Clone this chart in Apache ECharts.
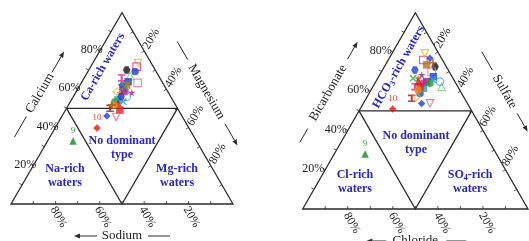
<!DOCTYPE html>
<html>
<head>
<meta charset="utf-8">
<style>
  html, body { margin: 0; padding: 0; background: #fff; }
  #chart { width: 529px; height: 241px; }
</style>
</head>
<body>
<div id="chart"></div>
<script src="https://cdn.jsdelivr.net/npm/echarts@6.0.0/dist/echarts.min.js"></script>
<script>
// water samples, % of meq
const sampleIds = [1, 2, 3, 4, 5, 6, 7, 8, 9, 10, 11, 12, 13, 14, 15, 16, 17, 18, 19, 20, 21, 22, 23, 24, 25, 26, 27, 28, 29, 30];
// cations: calcium + magnesium (sodium is the rest)
const caPct = [70.0, 71.8, 69.2, 73.7, 63.3, 66.9, 65.9, 63.9, 32.9, 39.7, 62.2, 62.2, 58.2, 59.6, 58.7, 56.1, 58.0, 53.5, 54.4, 52.8, 50.0, 49.1, 53.5, 58.7, 61.3, 51.8, 56.1, 51.8, 46.0, 45.5];
const mgPct = [17.1, 20.7, 21.3, 20.4, 25.4, 20.2, 16.9, 20.8, 11.5, 18.9, 21.0, 18.8, 25.3, 20.6, 22.0, 24.1, 20.1, 20.1, 21.0, 21.8, 19.6, 24.5, 23.8, 18.3, 20.7, 20.5, 21.5, 19.5, 20.2, 24.6];
// anions: bicarbonate + sulfate (chloride is the rest)
const hco3Pct = [72.5, 75.9, 58.9, 79.3, 69.9, 62.3, 62.3, 67.4, 28.0, 50.9, 73.4, 76.8, 68.3, 64.9, 64.0, 64.9, 66.6, 64.0, 61.5, 64.9, 56.4, 62.3, 65.7, 57.2, 66.6, 60.6, 70.8, 74.4, 53.8, 53.8];
const so4Pct = [22.5, 15.6, 22.6, 14.6, 22.3, 30.5, 18.7, 24.3, 13.7, 14.5, 18.3, 18.1, 18.7, 22.6, 21.5, 28.5, 17.9, 24.5, 22.8, 18.9, 20.2, 20.9, 25.0, 22.0, 15.7, 20.9, 14.4, 20.6, 25.9, 29.6];
const labeledSamples = [9, 10];
const tickLabels = [20, 40, 60, 80];
const tickSteps = [10, 20, 30, 40, 50, 60, 70, 80, 90];

const SERIF = '"Liberation Serif", "Times New Roman", serif';
const INK = '#2a2a2a';
const REGION_BLUE = '#2828c8';

const PATHS = {
  star: 'path://M50,0 L61,35 L98,35 L68,57 L79,91 L50,70 L21,91 L32,57 L2,35 L39,35 Z',
  cross: 'path://M0,15 L15,0 L50,35 L85,0 L100,15 L65,50 L100,85 L85,100 L50,65 L15,100 L0,85 L35,50 Z',
  plus: 'path://M38,0 H62 V38 H100 V62 H62 V100 H38 V62 H0 V38 H38 Z',
  ibeam: 'path://M0,0 H100 V22 H64 V78 H100 V100 H0 V78 H36 V22 H0 Z',
  hex: 'path://M25,0 L75,0 L100,50 L75,100 L25,100 L0,50 Z'
};

// marker per sample: [shape, colour, hollow]
const sampleStyle = [
  ['hex', '#111111', false], ['rect', '#d0209a', true], ['circle', '#2040d0', false],
  ['triDown', '#c8c020', true], ['rect', '#e070b0', true], ['triangle', '#70d070', true],
  ['ibeam', '#d0209a', false], ['rect', '#2040d0', false], ['triangle', '#108a20', false],
  ['diamond', '#ee1010', false], ['rect', '#b87020', false], ['diamond', '#2040d0', false],
  ['star', '#a0207a', false], ['rect', '#7a2a9a', false], ['circle', '#c020a0', false],
  ['circle', '#40a0e0', true], ['star', '#c03a20', false], ['circle', '#20a020', false],
  ['rect', '#20a0a8', false], ['triangle', '#e01818', false], ['ibeam', '#a01818', false],
  ['rect', '#e02020', false], ['cross', '#30a0d0', false], ['diamond', '#d8c030', true],
  ['cross', '#40b040', false], ['circle', '#f08a10', false], ['hex', '#2040d0', false],
  ['plus', '#a06020', false], ['diamond', '#2040d0', false], ['triDown', '#e06080', true]
];

// ternary -> grid: a = apex component, b = bottom-right component
function tern(a, b) {
  return [b + a / 2, a];
}

function sampleData(aPct, bPct) {
  return sampleIds.map(function (id, i) {
    const st = sampleStyle[i];
    const shape = st[0], color = st[1];
    const item = {
      value: tern(aPct[i], bPct[i]),
      symbol: PATHS[shape] || (shape === 'triDown' ? 'triangle' : shape),
      symbolRotate: shape === 'triDown' ? 180 : 0,
      itemStyle: st[2]
        ? { color: 'rgba(255,255,255,0)', borderColor: color, borderWidth: 1.1 }
        : { color: color, borderWidth: 0 }
    };
    if (labeledSamples.indexOf(id) >= 0) {
      item.label = {
        show: true, position: 'top', distance: 2, formatter: String(id),
        color: color, fontSize: 9, fontFamily: SERIF
      };
    }
    return item;
  });
}

function unit(p, q) {
  const dx = q[0] - p[0], dy = q[1] - p[1];
  const l = Math.hypot(dx, dy);
  return [dx / l, dy / l];
}
function move(p, v, k) {
  return [p[0] + v[0] * k, p[1] + v[1] * k];
}
function seg(p, q, w) {
  return { type: 'line', shape: { x1: p[0], y1: p[1], x2: q[0], y2: q[1] }, style: { stroke: INK, lineWidth: w || 1.2 } };
}
function arrow(p, q) {
  const u = unit(p, q), n = [-u[1], u[0]];
  const base = move(q, u, -6);
  return [
    seg(p, base, 1),
    { type: 'polygon', shape: { points: [q, move(base, n, 2.4), move(base, n, -2.4)] }, style: { fill: INK } }
  ];
}
function txt(p, str, rot, extra) {
  return {
    type: 'text', x: p[0], y: p[1], rotation: rot || 0,
    style: Object.assign({
      text: str, fill: '#222', font: '12px ' + SERIF, align: 'center', verticalAlign: 'middle'
    }, extra || {})
  };
}
function regionText(p, str, rot) {
  return txt(p, str, rot, {
    fill: REGION_BLUE, font: 'bold 12px ' + SERIF, lineHeight: 14,
    rich: {
      b: { fill: REGION_BLUE, font: 'bold 12px ' + SERIF, lineHeight: 14 },
      s: { fill: REGION_BLUE, font: 'bold 8px ' + SERIF, verticalAlign: 'bottom', lineHeight: 11 }
    }
  });
}
// axis name with a lead line and an arrow, placed outside an edge
function axisTitle(mid, out, u, dist, name, lineT, arrowT) {
  const c = move(mid, out, dist);
  const rot = -Math.atan2(u[1], u[0]);
  return [
    txt(c, name, rot, { font: '13px ' + SERIF }),
    seg(move(c, u, lineT[0]), move(c, u, lineT[1]), 1)
  ].concat(arrow(move(c, u, arrowT[0]), move(c, u, arrowT[1])));
}

function makeDecor(cfg) {
  return function (params, api) {
    const P = function (a, b) { return api.coord(tern(a, b)); };
    const L = P(0, 0), R = P(0, 100), T = P(100, 0);
    const kids = [];
    kids.push({ type: 'polygon', shape: { points: [L, R, T] }, style: { fill: null, stroke: INK, lineWidth: 1.3 } });
    kids.push(seg(P(50, 0), P(50, 50), 1.3));
    kids.push({ type: 'polyline', shape: { points: [P(50, 0), P(0, 50), P(50, 50)] }, style: { fill: null, stroke: INK, lineWidth: 1.3 } });

    const uLeft = unit(L, T), uRight = unit(T, R), uBase = [1, 0];
    const inLeft = [-uLeft[1], uLeft[0]];
    const inRight = [-uRight[1], uRight[0]];
    // small ticks every 10%, pointing inside
    tickSteps.forEach(function (v) {
      const pl = P(v, 0), pr = P(100 - v, v), pb = P(0, 100 - v);
      kids.push(seg(pl, move(pl, inLeft, -3), 0.8));
      kids.push(seg(pr, move(pr, inRight, 3), 0.8));
      kids.push(seg(pb, [pb[0], pb[1] - 3], 0.8));
    });
    const rotLeft = -Math.atan2(uLeft[1], uLeft[0]);
    const rotRight = -Math.atan2(uRight[1], uRight[0]);
    tickLabels.forEach(function (v) {
      const pl = P(v, 0), pr = P(100 - v, v), pb = P(0, 100 - v);
      kids.push(txt([pl[0] + cfg.leftLab[0], pl[1] + cfg.leftLab[1]], v + '%', 0, { align: 'right' }));
      kids.push(txt([pr[0] + cfg.rightLab[0], pr[1] + cfg.rightLab[1]], v + '%', rotLeft));
      kids.push(txt([pb[0] + cfg.baseLab[0], pb[1] + cfg.baseLab[1]], v + '%', rotRight));
    });

    const midL = P(50, 0), midR = P(50, 50), midB = P(0, 50);
    const outLeft = unit(R, midL);
    const outRight = unit(L, midR);
    kids.push.apply(kids, axisTitle(midL, outLeft, uLeft, cfg.apexT[0], cfg.apexName, cfg.apexT[1], cfg.apexT[2]));
    kids.push.apply(kids, axisTitle(midR, outRight, uRight, cfg.rightT[0], cfg.rightName, cfg.rightT[1], cfg.rightT[2]));
    kids.push.apply(kids, axisTitle(midB, [0, 1], uBase, cfg.baseT[0], cfg.baseName, cfg.baseT[1], cfg.baseT[2]));

    cfg.regions.forEach(function (r) {
      kids.push(regionText(P(r[0], r[1]), r[2], r[3] ? rotLeft : 0));
    });
    return { type: 'group', children: kids };
  };
}

const cationCfg = {
  apexName: 'Calcium', rightName: 'Magnesium', baseName: 'Sodium',
  leftLab: [3, -1], rightLab: [7, -12], baseLab: [3, 13],
  apexT: [30.6, [-51, -27], [24, 48]],
  rightT: [33.3, [-58, -37], [37, 62]],
  baseT: [32, [26, 48], [-25, -48]],
  regions: [
    [71.6, 5.6, '{b|Ca-rich waters}', true],
    [29.3, 35.4, '{b|No dominant}\n{b|type}', false],
    [14.6, 17.0, '{b|Na-rich}\n{b|waters}', false],
    [14.6, 67.5, '{b|Mg-rich}\n{b|waters}', false]
  ]
};
const anionCfg = {
  apexName: 'Bicarbonate', rightName: 'Sulfate', baseName: 'Chloride',
  leftLab: [-1, -1], rightLab: [5, -14], baseLab: [4, 14],
  apexT: [35.7, [-57, -41], [39, 59]],
  rightT: [38.2, [-46, -25], [25, 46]],
  baseT: [32, [31, 51], [-29, -49]],
  regions: [
    [72.3, 6.5, '{b|HCO}{s|3}{b|-rich waters}', true],
    [33.6, 33.5, '{b|No dominant}\n{b|type}', false],
    [13.8, 16.3, '{b|Cl-rich}\n{b|waters}', false],
    [13.8, 67.4, '{b|SO}{s|4}{b|-rich}\n{b|waters}', false]
  ]
};

const chart = echarts.init(document.getElementById('chart'));
const hiddenAxis = { type: 'value', min: 0, max: 100, show: false };
chart.setOption({
  animation: false,
  backgroundColor: '#fff',
  grid: [
    { left: 11, top: 12.7, width: 222, height: 191.3 },
    { left: 302.7, top: 12.7, width: 225.3, height: 196.3 }
  ],
  xAxis: [Object.assign({ gridIndex: 0 }, hiddenAxis), Object.assign({ gridIndex: 1 }, hiddenAxis)],
  yAxis: [Object.assign({ gridIndex: 0 }, hiddenAxis), Object.assign({ gridIndex: 1 }, hiddenAxis)],
  series: [
    { type: 'custom', xAxisIndex: 0, yAxisIndex: 0, data: [[0, 0]], renderItem: makeDecor(cationCfg), silent: true, z: 1 },
    { type: 'custom', xAxisIndex: 1, yAxisIndex: 1, data: [[0, 0]], renderItem: makeDecor(anionCfg), silent: true, z: 1 },
    { type: 'scatter', xAxisIndex: 0, yAxisIndex: 0, symbolSize: 7.5, data: sampleData(caPct, mgPct), z: 3 },
    { type: 'scatter', xAxisIndex: 1, yAxisIndex: 1, symbolSize: 7.5, data: sampleData(hco3Pct, so4Pct), z: 3 }
  ]
});
</script>
</body>
</html>
